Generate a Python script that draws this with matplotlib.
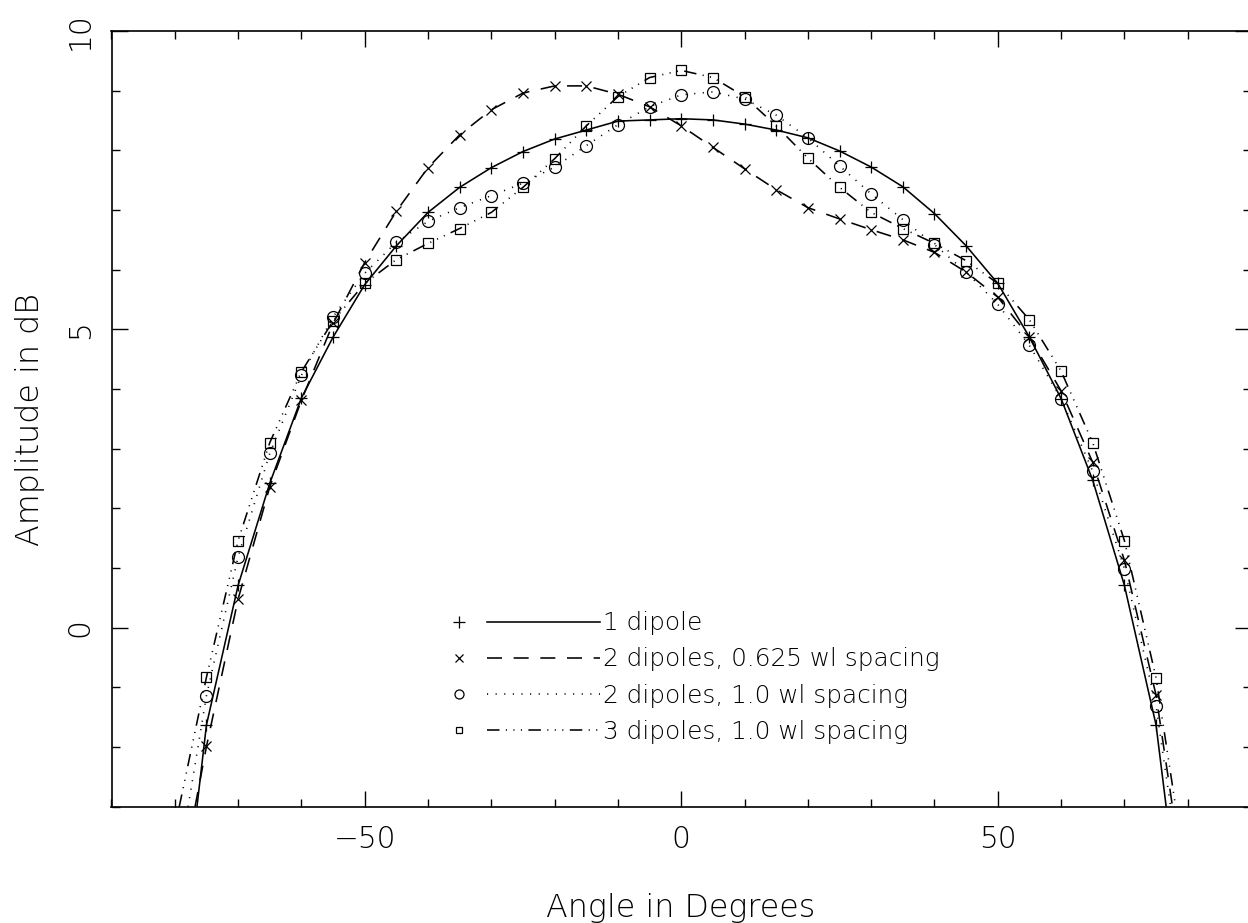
import matplotlib
matplotlib.use("Agg")
import matplotlib.pyplot as plt
from matplotlib.lines import Line2D
from matplotlib.ticker import MultipleLocator

plt.rcParams['font.family'] = ['DejaVu Sans']
plt.rcParams['lines.scale_dashes'] = False

# ---------------- data ----------------
angles = [-75, -70, -65, -60, -55, -50, -45, -40, -35, -30, -25, -20, -15, -10, -5,
          0, 5, 10, 15, 20, 25, 30, 35, 40, 45, 50, 55, 60, 65, 70, 75]

one_dipole = [-1.63, 0.71, 2.42, 3.85, 4.87, 5.75, 6.40, 6.96, 7.38, 7.71, 7.98, 8.19, 8.34, 8.49, 8.51,
              8.53, 8.51, 8.44, 8.34, 8.21, 7.99, 7.72, 7.39, 6.94, 6.40, 5.77, 4.87, 3.84, 2.47, 0.71, -1.63]

two_dip_0625 = [-1.99, 0.48, 2.36, 3.81, 5.10, 6.12, 6.98, 7.71, 8.26, 8.68, 8.96, 9.08, 9.08, 8.94, 8.73,
                8.41, 8.05, 7.69, 7.34, 7.04, 6.85, 6.67, 6.50, 6.29, 5.96, 5.54, 4.87, 3.97, 2.77, 1.13, -1.13]

two_dip_10 = [-1.14, 1.19, 2.92, 4.23, 5.21, 5.94, 6.46, 6.81, 7.04, 7.24, 7.45, 7.72, 8.08, 8.43, 8.73,
              8.93, 8.98, 8.86, 8.59, 8.21, 7.74, 7.27, 6.84, 6.42, 5.96, 5.42, 4.73, 3.84, 2.62, 0.99, -1.31]

three_dip_10 = [-0.83, 1.46, 3.10, 4.29, 5.14, 5.77, 6.17, 6.44, 6.69, 6.96, 7.38, 7.86, 8.41, 8.90, 9.22,
                9.34, 9.22, 8.90, 8.41, 7.87, 7.38, 6.96, 6.69, 6.44, 6.15, 5.77, 5.16, 4.30, 3.10, 1.46, -0.84]

# angles where each curve leaves the plot through the bottom edge (y = -3)
edge_left = [-76.5, -76.8, -77.9, -79.3]
edge_right = [76.6, 77.6, 77.3, 78.1]
y_bottom = -3

labels = ['1 dipole', '2 dipoles, 0.625 wl spacing', '2 dipoles, 1.0 wl spacing', '3 dipoles, 1.0 wl spacing']
series = [one_dipole, two_dip_0625, two_dip_10, three_dip_10]

x_ticks = [-50, 0, 50]
y_ticks = [0, 5, 10]

# ---------------- styles ----------------
markers = ['+', 'x', 'o', 's']
msizes = [8.8, 7.2, 8.6, 7.2]
leg_msizes = [8.0, 5.8, 6.5, 4.6]
styles = ['-', (0, (10.8, 8.4)), (0, (0.8, 5.4)), (0, (9.0, 4.6, 0.8, 4.6, 0.8, 4.6, 0.8, 4.6))]

W, H = 1248, 923
fig = plt.figure(figsize=(W / 100, H / 100), dpi=100)
L, R, T, B = 111.5, 1251.0, 31.0, 806.7
ax = fig.add_axes([L / W, (H - B) / H, (R - L) / W, (B - T) / H])

ax.set_xlim(-90, 90)
ax.set_ylim(-3, 10)

lw = 1.15
for i, vals in enumerate(series):
    lx = [edge_left[i]] + angles + [edge_right[i]]
    ly = [y_bottom] + vals + [y_bottom]
    ax.plot(lx, ly, color='black', lw=lw, linestyle=styles[i], dash_capstyle='butt',
            solid_capstyle='butt')
    ax.plot(angles, vals, linestyle='none', marker=markers[i], markersize=msizes[i],
            markerfacecolor='none', markeredgecolor='black', markeredgewidth=0.9)

# ticks (PGPLOT style: inward, on all four sides)
ax.xaxis.set_major_locator(MultipleLocator(50))
ax.xaxis.set_minor_locator(MultipleLocator(10))
ax.yaxis.set_major_locator(MultipleLocator(5))
ax.yaxis.set_minor_locator(MultipleLocator(1))
ax.set_xticks(x_ticks)
ax.set_xticklabels([f'{v}'.replace('-', '\u2212') for v in x_ticks])
ax.set_yticks(y_ticks)
ax.set_yticklabels([str(v) for v in y_ticks], rotation=90, va='center')
ax.tick_params(which='both', direction='in', top=True, right=True, color='black', width=1.0)
ax.tick_params(which='major', length=11.5)
ax.tick_params(which='minor', length=5.8)
ax.tick_params(axis='x', which='major', pad=13, labelsize=21.3, labelcolor='black')
ax.tick_params(axis='y', which='major', pad=12, labelsize=21.3, labelcolor='black')
for lab in ax.get_xticklabels() + ax.get_yticklabels():
    lab.set_fontweight(200)
for s in ax.spines.values():
    s.set_linewidth(1.2)
    s.set_color('black')

# axis labels
fig.text(681 / W, 1 - 917 / H, 'Angle in Degrees', ha='center', va='baseline',
         fontsize=22.9, fontweight=200)
fig.text(39 / W, 1 - 419 / H, 'Amplitude in dB', ha='center', va='baseline', rotation=90,
         rotation_mode='anchor', fontsize=22.9, fontweight=200)

# legend drawn inside the axes in PGPLOT fashion
def fx(px):
    return (px - L) / (R - L)

def fy(py):
    return (B - py) / (B - T)

row_y = [621.5, 657.5, 694.0, 730.0]
for i in range(4):
    yc = fy(row_y[i])
    ax.add_line(Line2D([fx(459)], [yc], transform=ax.transAxes, linestyle='none',
                       marker=markers[i], markersize=leg_msizes[i], markerfacecolor='none',
                       markeredgecolor='black', markeredgewidth=0.9))
    ax.add_line(Line2D([fx(487), fx(600)], [yc, yc], transform=ax.transAxes, color='black',
                       lw=lw, linestyle=styles[i], dash_capstyle='butt'))
    ax.text(fx(603), fy(row_y[i] + 8.5), labels[i], transform=ax.transAxes, ha='left',
            va='baseline', fontsize=17.8, fontweight=200)

fig.savefig('out.png', dpi=100)
